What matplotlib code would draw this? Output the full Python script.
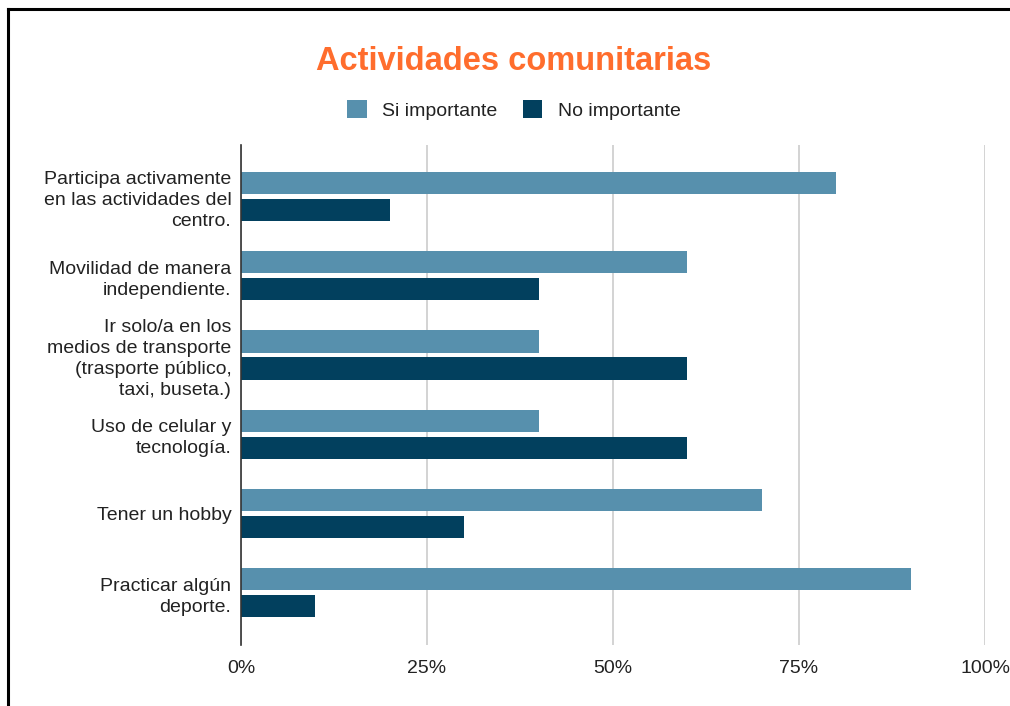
import matplotlib
matplotlib.use("Agg")
import matplotlib.pyplot as plt
from matplotlib.lines import Line2D
from matplotlib.patches import Patch
import numpy as np

plt.rcParams['font.family'] = ['Liberation Sans', 'DejaVu Sans']

categories = [
    "Participa activamente\nen las actividades del\ncentro.",
    "Movilidad de manera\nindependiente.",
    "Ir solo/a en los\nmedios de transporte\n(trasporte público,\ntaxi, buseta.)",
    "Uso de celular y\ntecnología.",
    "Tener un hobby",
    "Practicar algún\ndeporte.",
]
si_importante = [80, 60, 40, 40, 70, 90]
no_importante = [20, 40, 60, 60, 30, 10]
series_names = ["Si importante", "No importante"]
xticks = [0, 25, 50, 75, 100]
xticklabels = ["0%", "25%", "50%", "75%", "100%"]

c_si = "#5790AD"
c_no = "#02405E"

fig = plt.figure(figsize=(10.10, 7.06), dpi=100)
ax = fig.add_axes([241/1010, 1-645/706, (985-241)/1010, (645-145)/706])

y = np.arange(len(categories))
h = 0.28
off = 0.17
ax.barh(y - off, si_importante, height=h, color=c_si, zorder=3)
ax.barh(y + off, no_importante, height=h, color=c_no, zorder=3)

ax.set_xlim(0, 100)
ax.set_ylim(5.66, -0.65)
ax.set_xticks(xticks)
ax.set_xticklabels(xticklabels)
ax.set_yticks(y)
ax.set_yticklabels(categories, ha='right', multialignment='right', linespacing=1.3)
ax.tick_params(axis='both', length=0, labelsize=14, labelcolor="#222222")
ax.tick_params(axis='x', pad=11)
ax.tick_params(axis='y', pad=7)
ax.grid(axis='x', color="#CCCCCC", linewidth=1.2, zorder=0)
for s in ['top', 'right', 'bottom']:
    ax.spines[s].set_visible(False)
ax.spines['left'].set_color("#333333")
ax.spines['left'].set_linewidth(1.2)
ax.spines['left'].set_zorder(4)

fig.text(514/1010, 1-61/706, "Actividades comunitarias", ha='center', va='center',
         fontsize=23.5, fontweight='bold', color="#FF6D2D")

handles = [Patch(facecolor=c_si, edgecolor='none'), Patch(facecolor=c_no, edgecolor='none')]
fig.legend(handles, series_names, loc='center', bbox_to_anchor=(514/1010, 1-110/706),
           ncol=2, frameon=False, fontsize=14, handlelength=1.0, handleheight=1.0,
           handletextpad=0.8, columnspacing=1.3, labelcolor="#222222")

# frame lines (top and left border)
fig.add_artist(Line2D([8/1010, 1], [1-9/706, 1-9/706], color='black', linewidth=2.2, transform=fig.transFigure))
fig.add_artist(Line2D([8/1010, 8/1010], [0, 1-9/706], color='black', linewidth=2.2, transform=fig.transFigure))

fig.savefig("out.png", dpi=100)
